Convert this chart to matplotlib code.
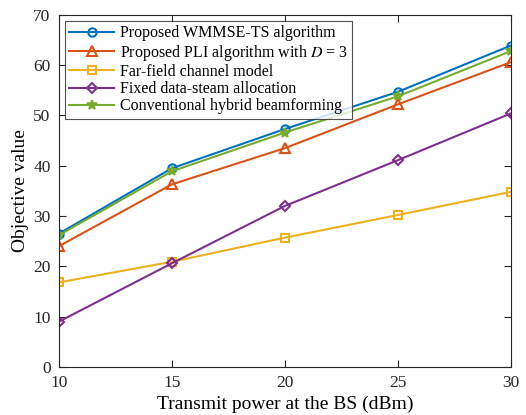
import numpy as np
import matplotlib
matplotlib.use("Agg")
import matplotlib.pyplot as plt

plt.rcParams['font.family'] = ['Liberation Serif', 'DejaVu Serif']
plt.rcParams['mathtext.fontset'] = 'stix'

# data
power = [10, 15, 20, 25, 30]
wmmse_ts = [26.5, 39.5, 47.3, 54.7, 63.9]
pli_d3 = [24.0, 36.3, 43.5, 52.2, 60.6]
far_field = [16.8, 20.9, 25.7, 30.2, 34.8]
fixed_ds = [9.0, 20.6, 32.0, 41.1, 50.4]
conv_hbf = [26.2, 38.9, 46.6, 53.8, 62.8]

labels = ['Proposed WMMSE-TS algorithm',
          'Proposed PLI algorithm with $D$ = 3',
          'Far-field channel model',
          'Fixed data-steam allocation',
          'Conventional hybrid beamforming']

fig = plt.figure(figsize=(5.26, 4.15), dpi=100)
ax = fig.add_axes([0.112, 0.116, 0.859, 0.848])

ax.plot(power, wmmse_ts, color='#0072BD', marker='o', mfc='none', ms=6, mew=1.5, lw=1.5, label=labels[0])
ax.plot(power, pli_d3, color='#D95319', marker='^', mfc='none', ms=7, mew=1.5, lw=1.5, label=labels[1])
ax.plot(power, far_field, color='#EDB120', marker='s', mfc='none', ms=5.5, mew=1.5, lw=1.5, label=labels[2])
ax.plot(power, fixed_ds, color='#7E2F8E', marker='D', mfc='none', ms=5.5, mew=1.5, lw=1.5, label=labels[3])
ax.plot(power, conv_hbf, color='#77AC30', marker='*', ms=7, mew=1.2, lw=1.5, label=labels[4])

ax.set_xlim(10, 30)
ax.set_ylim(0, 70)
ax.set_xticks([10, 15, 20, 25, 30])
ax.set_yticks(np.arange(0, 71, 10))
ax.tick_params(direction='in', top=True, right=True, labelsize=12.5, length=5, width=0.8,
               colors='#262626', pad=6)
for s in ax.spines.values():
    s.set_color('#262626')
    s.set_linewidth(0.8)
ax.set_xlabel('Transmit power at the BS (dBm)', fontsize=14, labelpad=3)
ax.set_ylabel('Objective value', fontsize=14, labelpad=3)

leg = ax.legend(loc='upper left', fontsize=11.5, frameon=True, fancybox=False, edgecolor='#262626',
                handlelength=2.8, handletextpad=0.35, borderpad=0.3, labelspacing=0.08,
                borderaxespad=0.35)
leg.get_frame().set_linewidth(0.8)

fig.savefig('out.png', dpi=100)
